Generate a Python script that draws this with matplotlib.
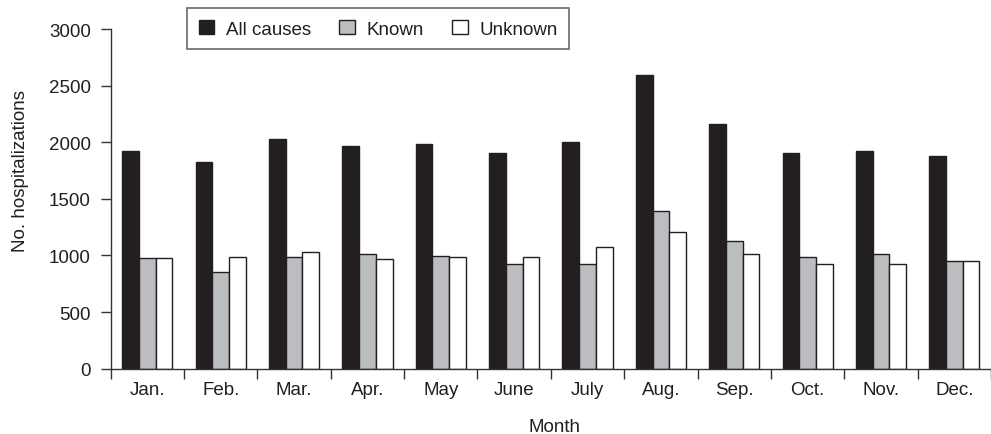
import matplotlib
matplotlib.use("Agg")
import matplotlib.pyplot as plt
import numpy as np

plt.rcParams['font.family'] = ['Liberation Sans', 'DejaVu Sans']

months = ["Jan.", "Feb.", "Mar.", "Apr.", "May", "June",
          "July", "Aug.", "Sep.", "Oct.", "Nov.", "Dec."]
all_causes = [1925, 1828, 2025, 1963, 1981, 1908, 2002, 2593, 2164, 1908, 1925, 1878]
known = [974, 857, 986, 1013, 998, 927, 927, 1395, 1130, 989, 1013, 951]
unknown = [974, 986, 1027, 966, 986, 986, 1077, 1204, 1010, 927, 927, 951]

W, H = 991, 435
fig = plt.figure(figsize=(W / 100, H / 100), dpi=100)
ax = fig.add_axes([110.7 / W, 65.3 / H, (W - 110.7) / W, 339.7 / H])

ink = "#231f20"
x = np.arange(len(months))
bw = 0.228
ax.bar(x - bw, all_causes, bw, color="#231f20", edgecolor=ink, linewidth=1.0, label="All causes")
ax.bar(x, known, bw, color="#bcbdc0", edgecolor=ink, linewidth=1.0, label="Known")
ax.bar(x + bw, unknown, bw, color="white", edgecolor=ink, linewidth=1.0, label="Unknown")

ax.set_ylim(0, 3000)
ax.set_xlim(-0.5, -0.5 + (W - 110.7) / 74.0)
ax.set_yticks(np.arange(0, 3001, 500))
ax.set_xticks(x)
ax.set_xticklabels(months)
ax.set_xticks(np.arange(-0.5, len(months) + 0.5, 1.0), minor=True)
ax.tick_params(axis='x', which='major', length=0, pad=8.5, labelsize=13.5, colors=ink)
ax.tick_params(axis='x', which='minor', length=7.2, width=1.0, direction='out', color="#333333")
ax.tick_params(axis='y', length=7.2, width=1.0, pad=7, labelsize=13.5, colors=ink)
ax.tick_params(axis='y', color="#333333")

for s in ("top", "right"):
    ax.spines[s].set_visible(False)
for s in ("left", "bottom"):
    ax.spines[s].set_color("#333333")
    ax.spines[s].set_linewidth(1.0)

# axis titles
fig.text(20.5 / W, 1 - 171.5 / H, "No. hospitalizations", rotation=90,
         ha="center", va="center", fontsize=13.5, color=ink)
fig.text(554 / W, 1 - 432 / H, "Month", ha="center", va="baseline",
         fontsize=13.5, color=ink)

leg = fig.legend(loc="upper left", bbox_to_anchor=(187 / W, 1 - 9.3 / H), ncol=3,
                 fontsize=13.5, frameon=True, fancybox=False, edgecolor="#444444",
                 handlelength=0.82, handleheight=0.8, handletextpad=0.62,
                 columnspacing=1.52, borderpad=0.62, borderaxespad=0)
leg.get_frame().set_linewidth(1.2)
for t in leg.get_texts():
    t.set_color(ink)

fig.savefig("out.png", dpi=100)
